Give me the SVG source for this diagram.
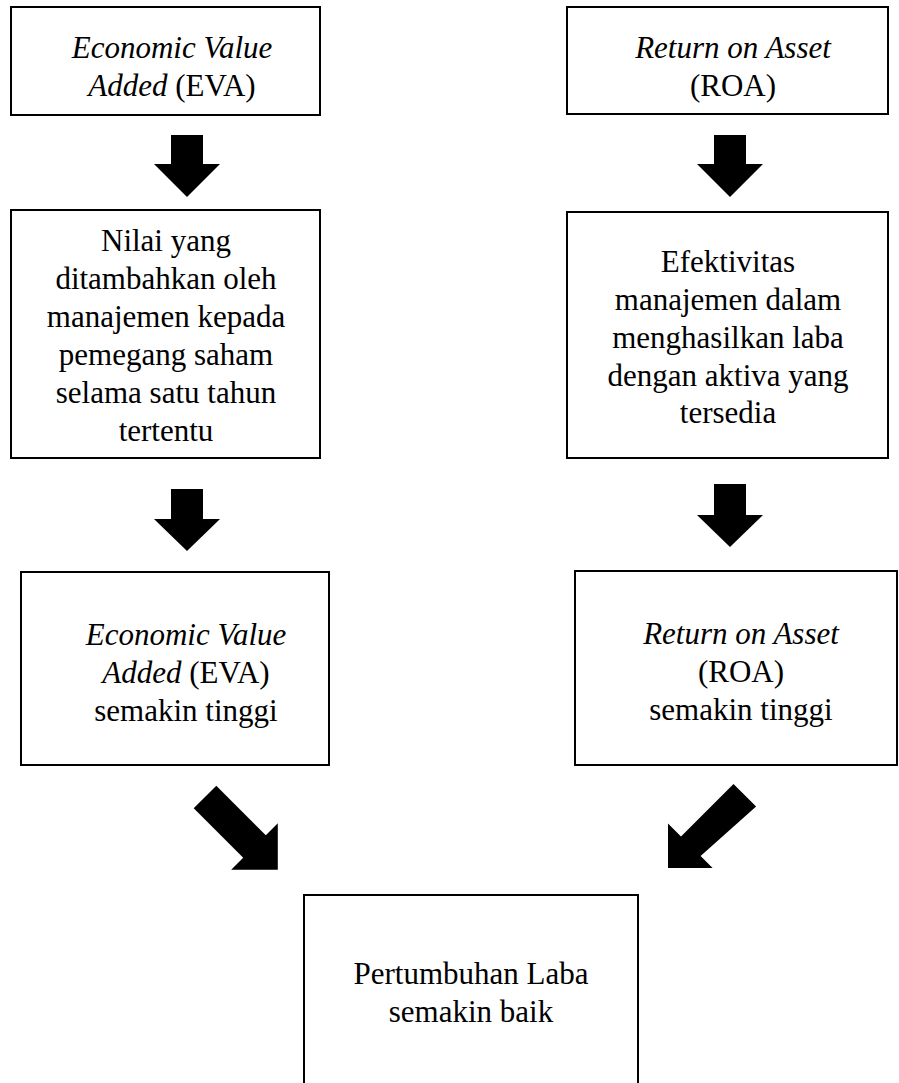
<svg xmlns="http://www.w3.org/2000/svg" width="899" height="1083" viewBox="0 0 899 1083">
<style>
.box{fill:#fff;stroke:#000;stroke-width:2}
.t{font-family:"Liberation Serif","Times New Roman",serif;font-size:31px;fill:#000;text-anchor:middle}
.i{font-style:italic}
.arr{fill:#000}
</style>
<rect width="899" height="1083" fill="#fff"/>
<g id="n1">
<rect class="box" x="11" y="7" width="309" height="108"/>
<text class="t" x="172" y="58"><tspan class="i">Economic Value</tspan></text>
<text class="t" x="172" y="96"><tspan class="i">Added</tspan> (EVA)</text>
</g>
<g id="n2">
<rect class="box" x="567" y="7" width="321" height="107"/>
<text class="t" x="733" y="58"><tspan class="i">Return on Asset</tspan></text>
<text class="t" x="733" y="96">(ROA)</text>
</g>
<g id="n3">
<rect class="box" x="11" y="210" width="309" height="248"/>
<text class="t" x="166" y="251">Nilai yang</text>
<text class="t" x="166" y="289">ditambahkan oleh</text>
<text class="t" x="166" y="327">manajemen kepada</text>
<text class="t" x="166" y="365">pemegang saham</text>
<text class="t" x="166" y="403">selama satu tahun</text>
<text class="t" x="166" y="441">tertentu</text>
</g>
<g id="n4">
<rect class="box" x="567" y="212" width="321" height="246"/>
<text class="t" x="728" y="272">Efektivitas</text>
<text class="t" x="728" y="310">manajemen dalam</text>
<text class="t" x="728" y="348">menghasilkan laba</text>
<text class="t" x="728" y="386">dengan aktiva yang</text>
<text class="t" x="728" y="423">tersedia</text>
</g>
<g id="n5">
<rect class="box" x="21" y="572" width="308" height="193"/>
<text class="t" x="186" y="645"><tspan class="i">Economic Value</tspan></text>
<text class="t" x="186" y="683"><tspan class="i">Added</tspan> (EVA)</text>
<text class="t" x="186" y="721">semakin tinggi</text>
</g>
<g id="n6">
<rect class="box" x="575" y="571" width="322" height="194"/>
<text class="t" x="741" y="644"><tspan class="i">Return on Asset</tspan></text>
<text class="t" x="741" y="682">(ROA)</text>
<text class="t" x="741" y="720">semakin tinggi</text>
</g>
<g id="n7">
<rect class="box" x="304" y="895" width="334" height="200"/>
<text class="t" x="471" y="984">Pertumbuhan Laba</text>
<text class="t" x="471" y="1022">semakin baik</text>
</g>
<g id="connectors">
<polygon class="arr" points="171,135 203,135 203,164 220,164 187,197 154,164 171,164"/>
<polygon class="arr" points="714,135 746,135 746,164 763,164 730,197 697,164 714,164"/>
<polygon class="arr" points="171,489 203,489 203,519 220,519 187,551 154,519 171,519"/>
<polygon class="arr" points="714,484 746,484 746,515 763,515 730,547 697,515 714,515"/>
<polygon class="arr" points="216.3,785.7 265.8,835.2 277.8,823.2 277.8,869.8 231.2,869.8 243.2,857.8 193.7,808.3"/>
<polygon class="arr" points="733.5,783.9 681,836.4 668,823.4 668,868 712.6,868 700.6,856 756.1,806.5"/>
</g>
</svg>
